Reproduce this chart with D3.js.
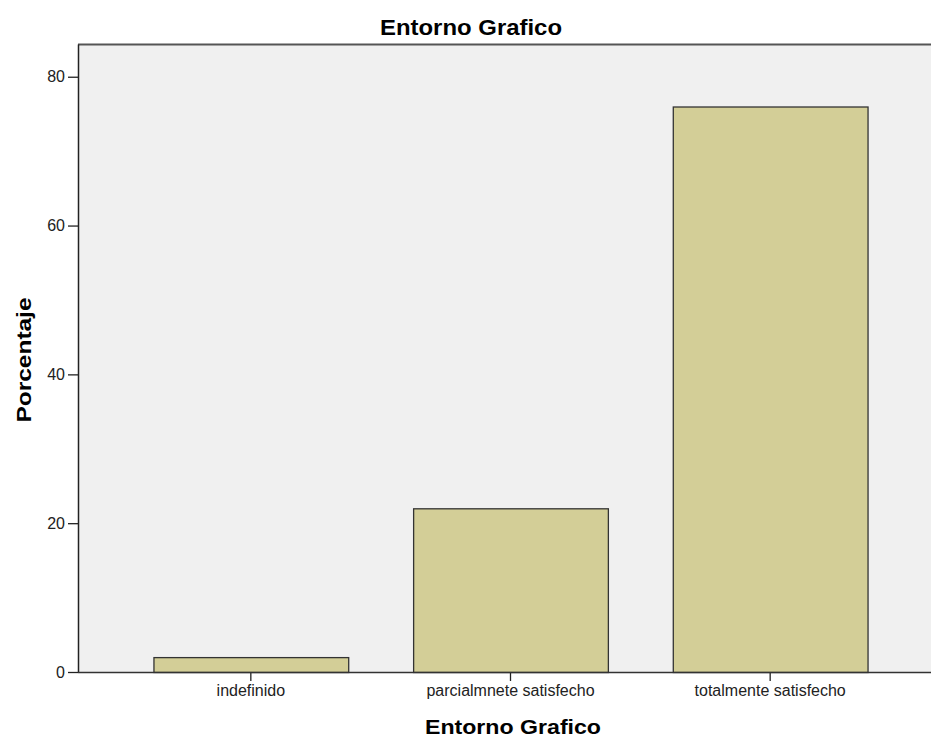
<!DOCTYPE html>
<html><head><meta charset="utf-8">
<script src="https://cdn.jsdelivr.net/npm/d3@7"></script>
<style>body{margin:0;background:#fff}svg{display:block}</style>
</head><body><svg id="c" width="931" height="738"></svg>
<script>
const categories = ["indefinido", "parcialmnete satisfecho", "totalmente satisfecho"];
const values = [2, 22, 76];
const yTicks = [0, 20, 40, 60, 80];

const svg = d3.select("#c");
const font = "'Liberation Sans', Arial, sans-serif";
const L = 78, R = 931, T = 44, B = 672;

const y = d3.scaleLinear().domain([0, 84.4]).range([B, T]);
const x = d3.scaleBand().domain(categories).range([121, 900]).paddingInner(0.25).paddingOuter(0.125);

svg.append("rect").attr("x", L).attr("y", T).attr("width", R - L).attr("height", B - T).attr("fill", "#f0f0f0");
svg.append("line").attr("x1", L).attr("x2", R).attr("y1", T + 0.5).attr("y2", T + 0.5).attr("stroke", "#555").attr("stroke-width", 2);

svg.selectAll(".bar").data(values).enter().append("rect")
  .attr("x", (d, i) => x(categories[i]) + 0.5)
  .attr("y", d => y(d) + 0.5)
  .attr("width", x.bandwidth())
  .attr("height", d => B - y(d))
  .attr("fill", "#d3ce97").attr("stroke", "#333").attr("stroke-width", 1.3);

const ya = svg.append("g").attr("transform", `translate(${L},0)`)
  .call(d3.axisLeft(y).tickValues(yTicks).tickSize(10).tickSizeOuter(0).tickPadding(3));
ya.select(".domain").attr("stroke", "#222").attr("stroke-width", 1.5);
ya.selectAll(".tick line").attr("stroke", "#222").attr("stroke-width", 1.3);
ya.selectAll("text").attr("font-family", font).attr("font-size", 16).attr("fill", "#222");

const xa = svg.append("g").attr("transform", `translate(0,${B})`)
  .call(d3.axisBottom(x).tickSize(9).tickPadding(4));
xa.select(".domain").remove();
xa.selectAll(".tick line").attr("stroke", "#222").attr("stroke-width", 1.3);
xa.selectAll("text").attr("font-family", font).attr("font-size", 16).attr("fill", "#222");
svg.append("line").attr("x1", L).attr("x2", R).attr("y1", B + 0.5).attr("y2", B + 0.5).attr("stroke", "#333").attr("stroke-width", 1.5);

svg.append("text").attr("x", 471).attr("y", 35).attr("text-anchor", "middle")
  .attr("font-family", font).attr("font-weight", "bold").attr("font-size", 22)
  .attr("textLength", 182).attr("lengthAdjust", "spacingAndGlyphs").text("Entorno Grafico");
svg.append("text").attr("x", 513).attr("y", 734).attr("text-anchor", "middle")
  .attr("font-family", font).attr("font-weight", "bold").attr("font-size", 20)
  .attr("textLength", 176).attr("lengthAdjust", "spacingAndGlyphs").text("Entorno Grafico");
svg.append("text").attr("transform", "translate(31,360) rotate(-90)").attr("text-anchor", "middle")
  .attr("font-family", font).attr("font-weight", "bold").attr("font-size", 20)
  .attr("textLength", 125).attr("lengthAdjust", "spacingAndGlyphs").text("Porcentaje");
</script></body></html>
